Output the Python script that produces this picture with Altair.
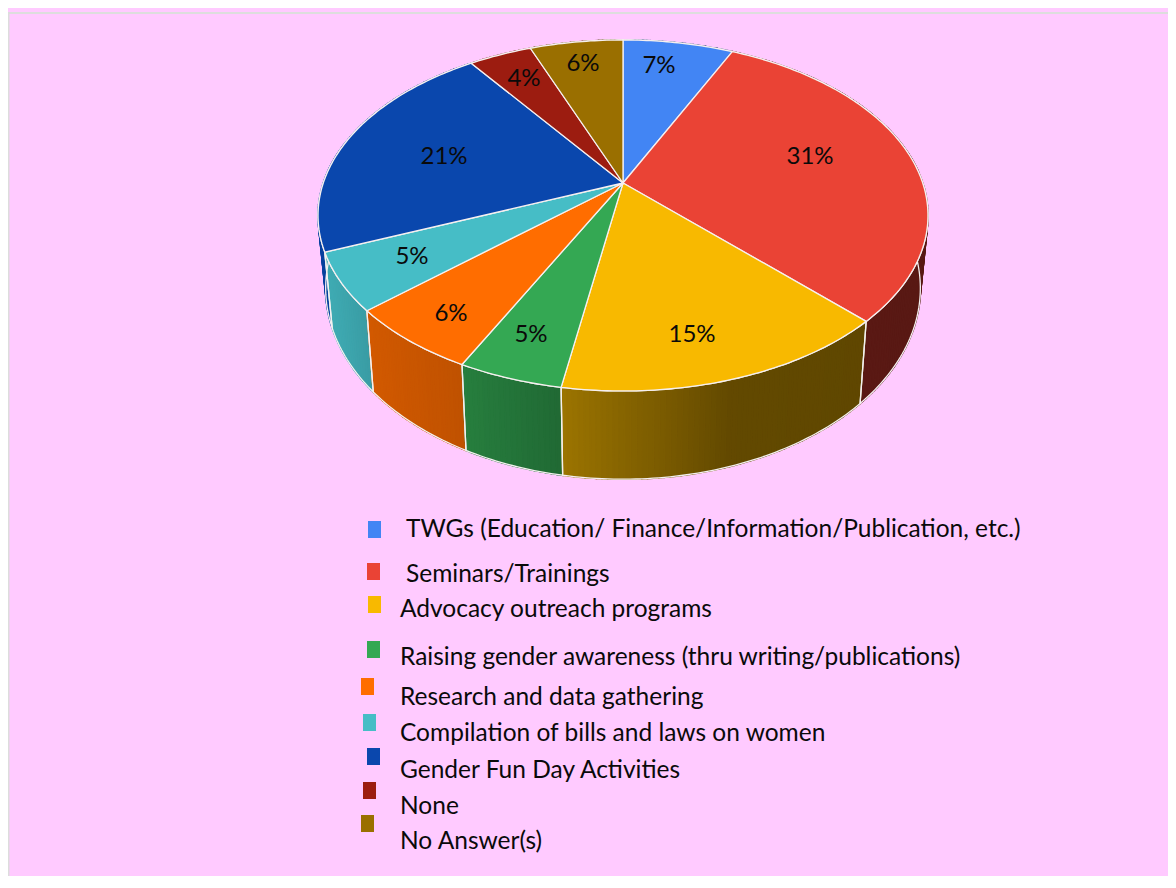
import math
import altair as alt

# ---- values ----
categories = ["TWGs (Education/ Finance/Information/Publication, etc.)", "Seminars/Trainings",
              "Advocacy outreach programs", "Raising gender awareness (thru writing/publications)",
              "Research and data gathering", "Compilation of bills and laws on women",
              "Gender Fun Day Activities", "None", "No Answer(s)"]
shares = [7.0, 30.55, 15.15, 4.7, 6.1, 5.3, 21.3, 4.0, 5.9]
labels = ["7%", "31%", "15%", "5%", "6%", "5%", "21%", "4%", "6%"]
colors = ["#4285F4", "#EA4335", "#F8B900", "#34A853", "#FF6D00", "#46BDC6", "#0A47AD", "#9C1C10", "#9A6F00"]

# ---- layout (page pixels) ----
OFF = 8
label_x = [659, 810, 692, 531, 451, 412, 444, 524, 583]
label_y = [66, 157, 335, 335, 314, 257, 157, 79, 64]
swatch_x = [368, 367, 368, 367, 361, 363, 367, 363, 361]
swatch_y = [521, 563, 596, 641, 678, 714, 748, 782, 815]
legend_x = [406, 406, 400, 400, 400, 400, 400, 400, 400]
legend_y = [530, 575, 610, 658, 698, 734, 771, 807, 842]
BG = "#FFCAFF"
FONT = "Lato"

# perspective disc
CX, CY, A, B, K = 623, 183, 299.7, 169.5, 0.185


def rim(t):
    s, c = math.sin(t), math.cos(t)
    w = 1 + K * c
    return CX + A * s / w, CY - B * c / w


def low(p):
    x, y = p
    return CX + 0.975 * (x - CX), y + 76 + 0.088 * (y - 252)


shade_x = [300, 320, 374, 466, 562, 730, 940]
shade_f = [0.92, 0.92, 0.82, 0.75, 0.63, 0.40, 0.38]


def shade(hexcol, x):
    f = shade_f[-1]
    for i in range(len(shade_x) - 1):
        if shade_x[i] <= x <= shade_x[i + 1]:
            u = (x - shade_x[i]) / (shade_x[i + 1] - shade_x[i])
            f = shade_f[i] + u * (shade_f[i + 1] - shade_f[i])
            break
    r, g, b = (int(hexcol[j:j + 2], 16) for j in (1, 3, 5))
    return "#%02x%02x%02x" % (int(r * f), int(g * f), int(b * f))


def feat(coords, fill):
    ring = [list(p) for p in coords]
    ring.append(ring[0])
    return {"type": "Feature", "geometry": {"type": "Polygon", "coordinates": [ring]},
            "properties": {}, "fill": fill}


tops, strips, outlines = [], [], []
cum = 0.0
for share, col in zip(shares, colors):
    t0 = cum / sum(shares) * 2 * math.pi
    cum += share
    t1 = cum / sum(shares) * 2 * math.pi
    n = max(4, int(share * 4))
    ts = [t0 + (t1 - t0) * i / n for i in range(n + 1)]
    arc = [rim(t) for t in ts]
    tops.append(feat([(CX, CY)] + arc, col))
    lows = [low(p) for p in arc]
    outlines.append(feat(arc + lows[::-1], col))
    for i in range(n):
        xm = (arc[i][0] + arc[i + 1][0]) / 2
        strips.append(feat([arc[i], arc[i + 1], lows[i + 1], lows[i]], shade(col, xm)))
strips.sort(key=lambda f: f["geometry"]["coordinates"][0][0][1])

proj = alt.Projection(type="identity", scale=1, translate=[-OFF, -OFF])

wall = alt.Chart(alt.Data(values=strips)).mark_geoshape(strokeWidth=1.6).encode(
    fill=alt.Fill("fill:N", scale=None), stroke=alt.Stroke("fill:N", scale=None)).project(**proj.to_dict())
wall_line = alt.Chart(alt.Data(values=outlines)).mark_geoshape(
    filled=False, stroke="#f4f0f0", strokeWidth=1.3).project(**proj.to_dict())
top = alt.Chart(alt.Data(values=tops)).mark_geoshape(
    stroke="#f6f0f0", strokeWidth=1.3).encode(fill=alt.Fill("fill:N", scale=None)).project(**proj.to_dict())

pct_rows = [{"t": l, "x": x - OFF, "y": y - OFF} for l, x, y in zip(labels, label_x, label_y)]
pct = alt.Chart(alt.Data(values=pct_rows)).mark_text(
    font=FONT, fontSize=24, color="#0a0a0a", align="center", baseline="middle").encode(
    x=alt.X("x:Q", scale=None), y=alt.Y("y:Q", scale=None), text="t:N")

sw_rows = [{"c": c, "x": x - OFF, "x2": x - OFF + 13, "y": y - OFF, "y2": y - OFF + 17}
           for c, x, y in zip(colors, swatch_x, swatch_y)]
sw = alt.Chart(alt.Data(values=sw_rows)).mark_rect().encode(
    x=alt.X("x:Q", scale=None), x2="x2:Q", y=alt.Y("y:Q", scale=None), y2="y2:Q",
    fill=alt.Fill("c:N", scale=None))

leg_rows = [{"t": t, "x": x - OFF, "y": y - OFF} for t, x, y in zip(categories, legend_x, legend_y)]
leg = alt.Chart(alt.Data(values=leg_rows)).mark_text(
    font=FONT, fontSize=24.5, color="#0a0a0a", align="left", baseline="middle").encode(
    x=alt.X("x:Q", scale=None), y=alt.Y("y:Q", scale=None), text="t:N")

W, H = 1160, 868
border_top = alt.Chart(alt.Data(values=[{"a": 1}])).mark_rule(color="#DDDDDD", strokeWidth=2).encode(
    x=alt.value(0), x2=alt.value(W), y=alt.value(5))
border_left = alt.Chart(alt.Data(values=[{"a": 1}])).mark_rule(color="#DDDDDD", strokeWidth=2).encode(
    x=alt.value(0.5), y=alt.value(5), y2=alt.value(H))

chart = alt.layer(border_top, border_left, wall, wall_line, top, pct, sw, leg).properties(
    width=W, height=H, padding=0, background=BG,
    autosize=alt.AutoSizeParams(type="none")
).configure_view(stroke=None)

chart.save("out.html", embed_options={"renderer": "svg", "actions": False})
